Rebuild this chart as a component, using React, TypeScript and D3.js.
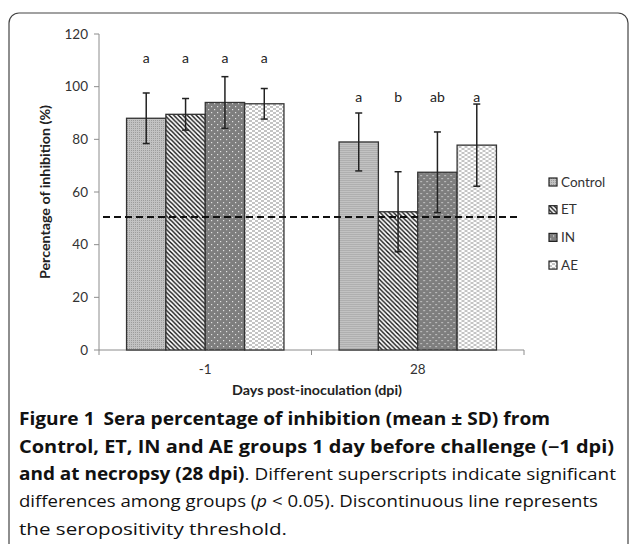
import React from 'react';
import * as d3 from 'd3';

// chart data
const days = ['-1', '28'];
const groups = ['Control', 'ET', 'IN', 'AE'];
const means = [
  [88, 89.5, 94, 93.5],
  [79, 52.5, 67.5, 77.8],
];
const sds = [
  [9.6, 6, 9.8, 5.8],
  [11, 15.2, 15.3, 15.6],
];
const letters = [
  ['a', 'a', 'a', 'a'],
  ['a', 'b', 'ab', 'a'],
];
const letterLevel = [111, 96];
const threshold = 50.5;
const yTicks = [0, 20, 40, 60, 80, 100, 120];

const W = 630;
const H = 544;

const fills: Record<string, string> = {
  Control: 'url(#pCtrl)',
  ET: 'url(#pET)',
  IN: 'url(#pIN)',
  AE: 'url(#pAE)',
};

export default function App() {
  const x0 = d3.scaleBand().domain(days).range([99, 524]);
  const x1 = d3
    .scaleBand()
    .domain(groups)
    .range([0, x0.bandwidth()])
    .paddingOuter(0.7);
  const y = d3.scaleLinear().domain([0, 120]).range([350, 34]);

  const tickFont = 'Lato, "Liberation Sans", sans-serif';
  const capFont = '"Open Sans", "Noto Sans", sans-serif';

  return (
    <svg width={W} height={H} style={{ position: 'absolute', left: 0, top: 0, background: '#fff' }}>
      <defs>
        <pattern id="pCtrl" width="2" height="2" patternUnits="userSpaceOnUse">
          <rect width="2" height="2" fill="#c2c2c2" />
          <rect width="1" height="1" fill="#9c9c9c" />
        </pattern>
        <pattern id="pET" width="4.5" height="4.5" patternUnits="userSpaceOnUse">
          <rect width="4.5" height="4.5" fill="#fff" />
          <path d="M0,0 L4.5,4.5 M-1,3.5 L1,5.5 M3.5,-1 L5.5,1" stroke="#111" strokeWidth="1.4" />
        </pattern>
        <pattern id="pIN" width="6" height="6" patternUnits="userSpaceOnUse">
          <rect width="6" height="6" fill="#7e7e7e" />
          <rect x="1" y="1" width="1.2" height="1.2" fill="#e0e0e0" />
          <rect x="4" y="4" width="1.2" height="1.2" fill="#e0e0e0" />
        </pattern>
        <pattern id="pAE" width="6" height="4" patternUnits="userSpaceOnUse">
          <rect width="6" height="4" fill="#fff" />
          <rect x="0" y="0.5" width="3" height="1" fill="#8a8a8a" />
          <rect x="3" y="2.5" width="3" height="1" fill="#8a8a8a" />
        </pattern>
      </defs>

      {/* figure frame */}
      <rect x={9} y={13} width={619} height={560} rx={10} fill="none" stroke="#444" strokeWidth={1.2} />

      {/* y axis */}
      <line x1={99} x2={99} y1={y(120)} y2={y(0)} stroke="#8c8c8c" />
      {yTicks.map((t) => (
        <g key={t}>
          <line x1={94} x2={99} y1={y(t)} y2={y(t)} stroke="#8c8c8c" />
          <text x={88} y={y(t)} dy="0.35em" textAnchor="end" fontSize={13.5} fontFamily={tickFont} fill="#333">
            {t}
          </text>
        </g>
      ))}

      {/* x axis */}
      <line x1={99} x2={524} y1={y(0)} y2={y(0)} stroke="#8c8c8c" />
      {[...days.map((d) => x0(d) as number), 524].map((v, i) => (
        <line key={i} x1={v} x2={v} y1={y(0)} y2={y(0) + 5} stroke="#8c8c8c" />
      ))}
      {days.map((d) => (
        <text
          key={d}
          x={(x0(d) as number) + x0.bandwidth() / 2}
          y={369}
          dy="0.35em"
          textAnchor="middle"
          fontSize={13.5}
          fontFamily={tickFont}
          fill="#333"
        >
          {d}
        </text>
      ))}

      {/* bars */}
      {days.map((d, di) => (
        <g key={d} transform={`translate(${x0(d)},0)`}>
          {groups.map((g, gi) => {
            const bx = x1(g) as number;
            const bw = x1.bandwidth();
            const m = means[di][gi];
            const s = sds[di][gi];
            const cx = bx + bw / 2;
            return (
              <g key={g}>
                <rect x={bx} y={y(m)} width={bw} height={y(0) - y(m)} fill={fills[g]} stroke="#333" strokeWidth={1.3} />
                <line x1={cx} x2={cx} y1={y(m + s)} y2={y(m - s)} stroke="#222" strokeWidth={1.5} />
                <line x1={cx - 3.5} x2={cx + 3.5} y1={y(m + s)} y2={y(m + s)} stroke="#222" strokeWidth={1.5} />
                <line x1={cx - 3.5} x2={cx + 3.5} y1={y(m - s)} y2={y(m - s)} stroke="#222" strokeWidth={1.5} />
                <text
                  x={cx}
                  y={y(letterLevel[di])}
                  dy="0.35em"
                  textAnchor="middle"
                  fontSize={14}
                  fontFamily={tickFont}
                  fill="#222"
                >
                  {letters[di][gi]}
                </text>
              </g>
            );
          })}
        </g>
      ))}

      {/* seropositivity threshold */}
      <line
        x1={103}
        x2={517}
        y1={y(threshold)}
        y2={y(threshold)}
        stroke="#111"
        strokeWidth={2}
        strokeDasharray="7,4"
      />

      {/* legend */}
      {groups.map((g, i) => (
        <g key={g} transform={`translate(549,${182 + i * 27.7})`}>
          <rect x={0} y={-4} width={8} height={8} fill={fills[g]} stroke="#222" strokeWidth={1.2} />
          <text x={12} y={0} dy="0.35em" fontSize={13.5} fontFamily={tickFont} fill="#333">
            {g}
          </text>
        </g>
      ))}

      {/* axis titles */}
      <text
        transform="translate(45,192) rotate(-90)"
        textAnchor="middle"
        dy="0.35em"
        fontSize={13}
        fontWeight="bold"
        fontFamily={tickFont}
        fill="#222"
        textLength={174}
        lengthAdjust="spacingAndGlyphs"
      >
        Percentage of inhibition  (%)
      </text>
      <text
        x={317}
        y={390}
        dy="0.35em"
        textAnchor="middle"
        fontSize={13}
        fontWeight="bold"
        fontFamily={tickFont}
        fill="#222"
        textLength={170}
        lengthAdjust="spacingAndGlyphs"
      >
        Days post-inoculation  (dpi)
      </text>

      {/* caption */}
      <g fontFamily={capFont} fontSize={17} fill="#111">
        <text x={19} y={425} textLength={531} lengthAdjust="spacingAndGlyphs" fontWeight="bold">
          Figure 1<tspan dx={8}>Sera percentage of inhibition (mean ± SD) from</tspan>
        </text>
        <text x={19} y={453} textLength={595} lengthAdjust="spacingAndGlyphs" fontWeight="bold">
          Control, ET, IN and AE groups 1 day before challenge (−1 dpi)
        </text>
        <text x={19} y={480} textLength={597} lengthAdjust="spacingAndGlyphs">
          <tspan fontWeight="bold">and at necropsy (28 dpi)</tspan>. Different superscripts indicate significant
        </text>
        <text x={19} y={507} textLength={579} lengthAdjust="spacingAndGlyphs">
          differences among groups (<tspan fontStyle="italic">p</tspan> &lt; 0.05). Discontinuous line represents
        </text>
        <text x={19} y={535} textLength={268} lengthAdjust="spacingAndGlyphs">
          the seropositivity threshold.
        </text>
      </g>
    </svg>
  );
}
